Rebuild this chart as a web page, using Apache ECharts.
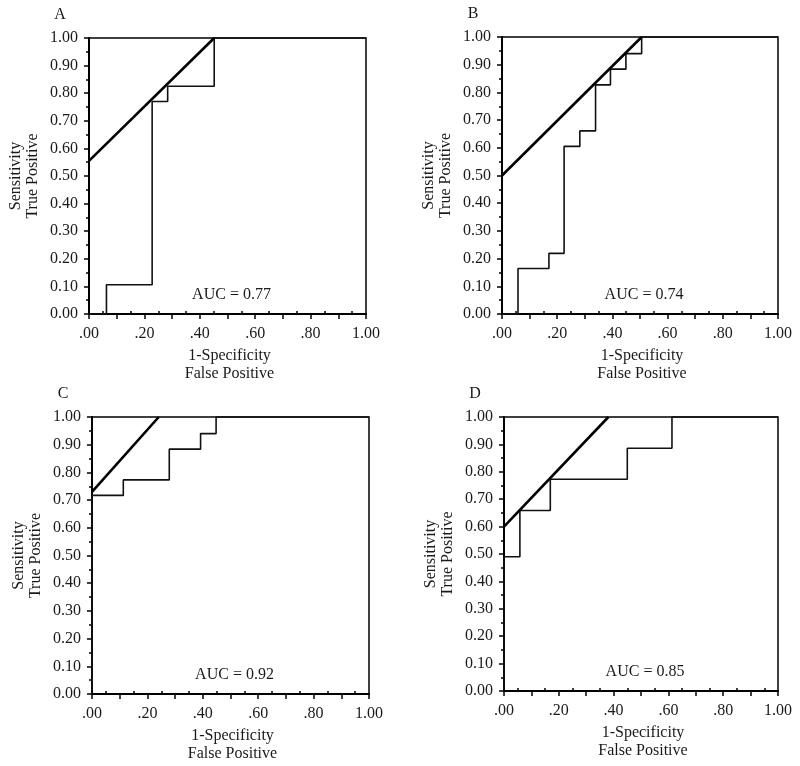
<!DOCTYPE html>
<html>
<head>
<meta charset="utf-8">
<script src="https://cdn.jsdelivr.net/npm/echarts@6/dist/echarts.min.js"></script>
<style>
html,body{margin:0;padding:0;background:#fff;}
#c{width:800px;height:766px;}
</style>
</head>
<body>
<div id="c"></div>
<script>
// ---- data ----
const panelNames = ['A', 'B', 'C', 'D'];
const aucLabels = ['AUC = 0.77', 'AUC = 0.74', 'AUC = 0.92', 'AUC = 0.85'];

const rocAX = [0, 0.063, 0.063, 0.228, 0.228, 0.284, 0.284, 0.452, 0.452, 1];
const rocAY = [0, 0, 0.106, 0.106, 0.770, 0.770, 0.825, 0.825, 1, 1];
const rocBX = [0, 0.058, 0.058, 0.170, 0.170, 0.225, 0.225, 0.282, 0.282, 0.339, 0.339, 0.393, 0.393, 0.449, 0.449, 0.506, 0.506, 1];
const rocBY = [0, 0, 0.164, 0.164, 0.219, 0.219, 0.605, 0.605, 0.661, 0.661, 0.827, 0.827, 0.884, 0.884, 0.940, 0.940, 1, 1];
const rocCX = [0, 0, 0.113, 0.113, 0.279, 0.279, 0.392, 0.392, 0.448, 0.448, 1];
const rocCY = [0, 0.717, 0.717, 0.773, 0.773, 0.884, 0.884, 0.940, 0.940, 1, 1];
const rocDX = [0, 0, 0.058, 0.058, 0.169, 0.169, 0.450, 0.450, 0.613, 0.613, 1];
const rocDY = [0, 0.49, 0.49, 0.659, 0.659, 0.773, 0.773, 0.886, 0.886, 1, 1];

const diagAX = [0, 0.452], diagAY = [0.555, 1];
const diagBX = [0, 0.506], diagBY = [0.500, 1];
const diagCX = [0, 0.241], diagCY = [0.730, 1];
const diagDX = [0, 0.381], diagDY = [0.600, 1];

const xTickLabels = ['.00', '', '.20', '', '.40', '', '.60', '', '.80', '', '1.00'];
const yTickLabels = ['0.00', '0.10', '0.20', '0.30', '0.40', '0.50', '0.60', '0.70', '0.80', '0.90', '1.00'];
const xTitle = ['1-Specificity', 'False Positive'];
const yTitle = ['Sensitivity', 'True Positive'];

// ---- layout ----
const FONT = '"Liberation Serif", "Times New Roman", serif';
const grids = [
  {left: 89, top: 38, width: 277, height: 276},
  {left: 502, top: 37, width: 276, height: 277},
  {left: 92, top: 417, width: 277, height: 277},
  {left: 504, top: 417, width: 274, height: 274}
];
const rocX = [rocAX, rocBX, rocCX, rocDX];
const rocY = [rocAY, rocBY, rocCY, rocDY];
const diagX = [diagAX, diagBX, diagCX, diagDX];
const diagY = [diagAY, diagBY, diagCY, diagDY];
const zip = (xs, ys) => xs.map((x, i) => [x, ys[i]]);

const option = {
  backgroundColor: '#fff',
  animation: false,
  grid: [], xAxis: [], yAxis: [], series: [], graphic: []
};

grids.forEach((g, i) => {
  // main grid
  option.grid.push(Object.assign({show: true, borderColor: '#000', borderWidth: 1.5, backgroundColor: 'transparent', containLabel: false}, g));
  // overlay grid for inner minor ticks on x
  option.grid.push(Object.assign({show: false, containLabel: false}, g));
  const gi = i * 2;
  option.xAxis.push({
    type: 'value', gridIndex: gi, min: 0, max: 1, interval: 0.1, position: 'bottom',
    axisLine: {show: true, onZero: false, lineStyle: {color: '#000', width: 2}},
    axisTick: {show: true, inside: false, length: 5, lineStyle: {color: '#000', width: 1.5}},
    minorTick: {show: false},
    splitLine: {show: false},
    axisLabel: {show: true, margin: 12, color: '#1a1a1a', fontFamily: FONT, fontSize: 16,
      formatter: v => xTickLabels[Math.round(v * 10)] }
  });
  option.xAxis.push({
    type: 'value', gridIndex: gi + 1, min: 0, max: 1, interval: 0.1, position: 'bottom',
    axisLine: {show: false},
    axisTick: {show: false, inside: true},
    minorTick: {show: true, splitNumber: 2, length: 3, lineStyle: {color: '#000', width: 1.5}},
    splitLine: {show: false}, axisLabel: {show: false}
  });
  option.yAxis.push({
    type: 'value', gridIndex: gi, min: 0, max: 1, interval: 0.1,
    axisLine: {show: true, onZero: false, lineStyle: {color: '#000', width: 2}},
    axisTick: {show: true, inside: false, length: 5, lineStyle: {color: '#000', width: 1.5}},
    minorTick: {show: true, splitNumber: 2, length: 3, lineStyle: {color: '#000', width: 1.5}},
    splitLine: {show: false},
    axisLabel: {show: true, margin: 11, color: '#1a1a1a', fontFamily: FONT, fontSize: 16,
      formatter: v => yTickLabels[Math.round(v * 10)] }
  });
  option.yAxis.push({
    type: 'value', gridIndex: gi + 1, min: 0, max: 1, show: false
  });
  option.series.push({
    type: 'line', xAxisIndex: gi, yAxisIndex: gi, data: zip(rocX[i], rocY[i]),
    showSymbol: false, symbol: 'none', clip: false,
    lineStyle: {color: '#111', width: 1.6}, z: 3
  });
  option.series.push({
    type: 'line', xAxisIndex: gi, yAxisIndex: gi, data: zip(diagX[i], diagY[i]),
    showSymbol: false, symbol: 'none', clip: false,
    lineStyle: {color: '#000', width: 2.6}, z: 4
  });

  const cx = g.left + g.width / 2;
  const cy = g.top + g.height / 2;
  const bottom = g.top + g.height;
  const txt = (x, y, s, rot) => ({
    type: 'text', x: x, y: y, rotation: rot || 0,
    style: {text: s, fill: '#1a1a1a', font: '16px ' + FONT, textAlign: 'center', textVerticalAlign: 'middle'}
  });
  option.graphic.push(txt(g.left - 29, g.top - 23, panelNames[i]));
  option.graphic.push(txt(cx + 2, bottom + 42, xTitle[0]));
  option.graphic.push(txt(cx + 2, bottom + 60, xTitle[1]));
  option.graphic.push(txt(g.left - 73, cy, yTitle[0], Math.PI / 2));
  option.graphic.push(txt(g.left - 56, cy, yTitle[1], Math.PI / 2));
  option.graphic.push(txt(cx + 4, bottom - 19, aucLabels[i]));
});

const chart = echarts.init(document.getElementById('c'), null, {renderer: 'canvas'});
chart.setOption(option);
</script>
</body>
</html>
